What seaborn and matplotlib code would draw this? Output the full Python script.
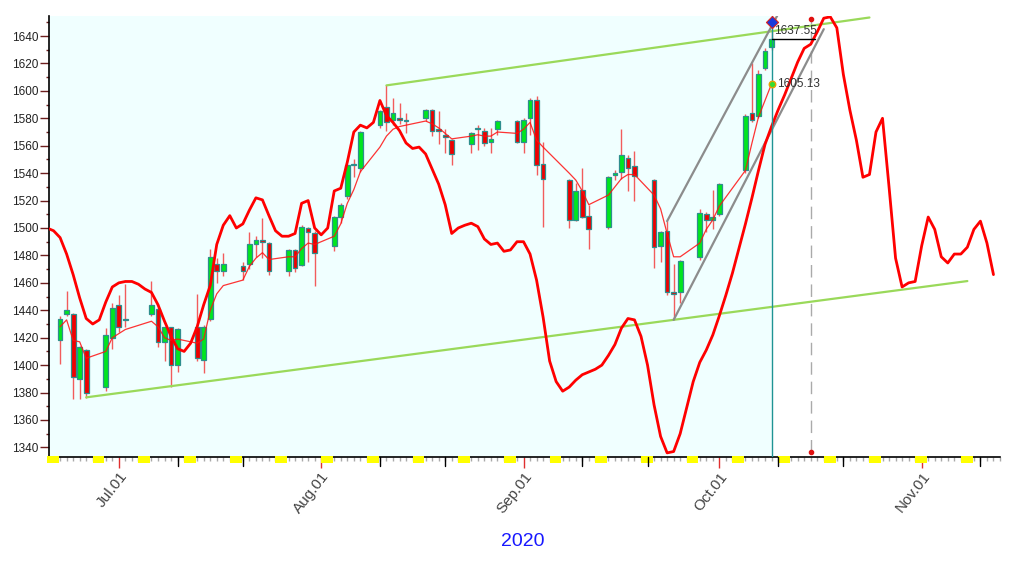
import pandas as pd
import matplotlib
matplotlib.use('Agg')
import matplotlib.pyplot as plt
import matplotlib.dates as mdates
import matplotlib.transforms as mtransforms
from matplotlib.ticker import MultipleLocator
import seaborn as sns

# ---- daily candles ----
trade_dates = ['2020-06-22', '2020-06-23', '2020-06-24', '2020-06-25', '2020-06-26',
               '2020-06-29', '2020-06-30', '2020-07-01', '2020-07-02',
               '2020-07-06', '2020-07-07', '2020-07-08', '2020-07-09', '2020-07-10',
               '2020-07-13', '2020-07-14', '2020-07-15', '2020-07-16', '2020-07-17',
               '2020-07-20', '2020-07-21', '2020-07-22', '2020-07-23', '2020-07-24',
               '2020-07-27', '2020-07-28', '2020-07-29', '2020-07-30', '2020-07-31',
               '2020-08-03', '2020-08-04', '2020-08-05', '2020-08-06', '2020-08-07',
               '2020-08-10', '2020-08-11', '2020-08-12', '2020-08-13', '2020-08-14',
               '2020-08-17', '2020-08-18', '2020-08-19', '2020-08-20', '2020-08-21',
               '2020-08-24', '2020-08-25', '2020-08-26', '2020-08-27', '2020-08-28',
               '2020-08-31', '2020-09-01', '2020-09-02', '2020-09-03', '2020-09-04',
               '2020-09-08', '2020-09-09', '2020-09-10', '2020-09-11',
               '2020-09-14', '2020-09-15', '2020-09-16', '2020-09-17', '2020-09-18',
               '2020-09-21', '2020-09-22', '2020-09-23', '2020-09-24', '2020-09-25',
               '2020-09-28', '2020-09-29', '2020-09-30', '2020-10-01',
               '2020-10-05', '2020-10-06', '2020-10-07', '2020-10-08', '2020-10-09']

opens = [1418, 1437, 1437, 1390, 1411,
         1384, 1420, 1444, 1434,
         1437, 1441, 1417, 1428, 1400,
         1428, 1404, 1434, 1474, 1469,
         1472, 1474, 1488, 1491, 1489,
         1469, 1484, 1473, 1500, 1496,
         1487, 1508, 1523, 1546, 1544,
         1575, 1588, 1579, 1580, 1578,
         1580, 1586, 1572, 1568, 1564,
         1561, 1573, 1571, 1563, 1572,
         1578, 1563, 1580, 1593, 1547,
         1535, 1506, 1528, 1509,
         1501, 1539, 1541, 1551, 1545,
         1535, 1487, 1498, 1453, 1453,
         1479, 1510, 1506, 1510,
         1542, 1584, 1582, 1617, 1632]

highs = [1436, 1454, 1438, 1414, 1412,
         1427, 1445, 1451, 1459,
         1461, 1442, 1428, 1428, 1427,
         1452, 1429, 1485, 1478, 1482,
         1475, 1497, 1494, 1507, 1490,
         1485, 1485, 1502, 1501, 1498,
         1509, 1518, 1547, 1550, 1571,
         1586, 1604, 1595, 1591, 1584,
         1587, 1587, 1585, 1572, 1565,
         1570, 1575, 1573, 1573, 1579,
         1579, 1580, 1595, 1596, 1563,
         1536, 1533, 1544, 1517,
         1538, 1542, 1572, 1553, 1556,
         1536, 1498, 1505, 1474, 1477,
         1514, 1512, 1528, 1533,
         1583, 1620, 1615, 1631, 1645]

lows = [1401, 1436, 1375, 1375, 1376,
        1381, 1412, 1424, 1428,
        1436, 1413, 1403, 1384, 1395,
        1403, 1394, 1432, 1460, 1465,
        1462, 1470, 1479, 1478, 1466,
        1465, 1468, 1472, 1475, 1458,
        1483, 1504, 1521, 1537, 1541,
        1573, 1571, 1575, 1576, 1569,
        1578, 1567, 1561, 1555, 1546,
        1555, 1557, 1560, 1555, 1568,
        1562, 1555, 1568, 1539, 1501,
        1500, 1505, 1507, 1485,
        1499, 1535, 1536, 1527, 1520,
        1471, 1475, 1451, 1433, 1445,
        1477, 1497, 1499, 1509,
        1540, 1577, 1580, 1615, 1630]

closes = [1434, 1440, 1391, 1413, 1380,
          1422, 1442, 1428, 1433,
          1444, 1417, 1428, 1400, 1426,
          1405, 1428, 1479, 1469, 1474,
          1469, 1488, 1491, 1490, 1469,
          1484, 1471, 1501, 1497, 1482,
          1508, 1517, 1546, 1547, 1570,
          1585, 1577, 1584, 1579, 1579,
          1586, 1571, 1571, 1566, 1554,
          1569, 1572, 1562, 1565, 1578,
          1563, 1579, 1593, 1546, 1536,
          1506, 1527, 1508, 1499,
          1537, 1540, 1553, 1544, 1538,
          1486, 1497, 1453, 1452, 1476,
          1511, 1506, 1508, 1532,
          1582, 1579, 1612, 1629, 1637.55]

# thin moving-average line
ma_values = [1428, 1433, 1418, 1417, 1405,
             1410, 1420, 1423, 1426,
             1432, 1428, 1420, 1418, 1419,
             1416, 1419, 1440, 1452, 1458,
             1462, 1472, 1478, 1482, 1477,
             1479, 1479, 1485, 1489, 1488,
             1494, 1503, 1518, 1528, 1541,
             1559, 1567, 1572, 1574, 1575,
             1578, 1576, 1573, 1569, 1565,
             1567, 1568, 1567, 1567, 1570,
             1569, 1572, 1577, 1564, 1559,
             1540, 1535, 1527, 1517,
             1524, 1530, 1536, 1539, 1539,
             1524, 1514, 1496, 1479, 1479,
             1489, 1499, 1506, 1516,
             1542, 1562, 1581, 1593, 1605.13]

# thick cycle line, one value per calendar day from Jun 20
cycle_start = '2020-06-20'
cycle_values = [1500, 1498, 1493, 1481, 1466, 1449, 1434, 1430, 1433, 1446, 1457,
                1460, 1461, 1461, 1459, 1455.5, 1453, 1444, 1432, 1421, 1412,
                1410, 1416, 1428, 1444, 1458, 1488, 1502, 1509, 1500, 1503,
                1513, 1522, 1520.5, 1509, 1498, 1494, 1494, 1496, 1518, 1520,
                1500, 1495, 1500, 1527, 1529, 1548, 1570, 1575, 1573, 1577,
                1593, 1582, 1577, 1571, 1562, 1558, 1559, 1554, 1543, 1532,
                1517, 1496, 1500, 1502, 1503.5, 1501, 1492, 1488, 1489, 1483,
                1484, 1490, 1490, 1481, 1462, 1435, 1403, 1388, 1381, 1384,
                1389, 1393, 1395, 1397, 1400, 1407, 1415, 1427, 1434, 1433,
                1421, 1400, 1371, 1348, 1336, 1337, 1350, 1369, 1388, 1402,
                1411, 1422, 1436, 1451, 1467, 1485, 1503, 1522, 1542, 1561,
                1574, 1586, 1597, 1609, 1621, 1631, 1634, 1643, 1653, 1654,
                1646, 1612, 1586, 1564, 1537, 1539, 1570, 1580, 1530, 1478,
                1457, 1460, 1461, 1487, 1508, 1499, 1479, 1474.5, 1481, 1481,
                1486, 1499, 1505, 1489, 1466]

# trend lines
green_upper_x = ['2020-08-11', '2020-10-24']
green_upper_y = [1604, 1653.5]
green_lower_x = ['2020-06-26', '2020-11-08']
green_lower_y = [1376.5, 1461.3]
gray_upper_x = ['2020-09-23', '2020-10-10']
gray_upper_y = [1505, 1656]
gray_lower_x = ['2020-09-24', '2020-10-17']
gray_lower_y = [1433, 1645]

last_date = '2020-10-09'
last_close = 1637.55
last_ma = 1605.13
marker_date = '2020-10-15'
marker_top = 1652.4
marker_bottom = 1336.6

# ---- style ----
sns.set_style('white')
plt.rcParams['font.family'] = ['Liberation Sans', 'DejaVu Sans']

fig = plt.figure(figsize=(10.3, 5.82), dpi=100)
ax = fig.add_axes([49 / 1030, 1 - 457 / 582, 951 / 1030, 441 / 582])

d_trade = pd.to_datetime(trade_dates)
xt = mdates.date2num(d_trade)
jul1 = mdates.date2num(pd.Timestamp('2020-07-01'))
x_left, x_right = jul1 - 10.7, jul1 + 135.0
x_last = mdates.date2num(pd.Timestamp(last_date))

# shaded history area
ax.axvspan(x_left, x_last, color='#F0FFFF', zorder=0, lw=0)

# candles
body_low = [min(o, c) for o, c in zip(opens, closes)]
body_h = [max(abs(c - o), 0.6) for o, c in zip(opens, closes)]
body_col = ['#00E61E' if c >= o else '#F00000' for o, c in zip(opens, closes)]
ax.vlines(xt, lows, highs, color='#F25C5C', lw=1, zorder=3)
ax.bar(xt, body_h, bottom=body_low, width=0.72, color=body_col,
       edgecolor='#2E8E8E', linewidth=0.9, zorder=4)

# moving average and cycle line
sns.lineplot(x=xt, y=ma_values, color='#FF1010', lw=0.9, alpha=0.85, ax=ax, zorder=5)
d_cycle = pd.date_range(cycle_start, periods=len(cycle_values), freq='D')
sns.lineplot(x=mdates.date2num(d_cycle), y=cycle_values, color='#FF0000', lw=2,
             ax=ax, zorder=6)

# channel lines
for xs, ys, col in [(green_upper_x, green_upper_y, '#9AD95A'),
                    (green_lower_x, green_lower_y, '#9AD95A'),
                    (gray_upper_x, gray_upper_y, '#8C8C8C'),
                    (gray_lower_x, gray_lower_y, '#8C8C8C')]:
    ax.plot(mdates.date2num(pd.to_datetime(xs)), ys, color=col, lw=1.6, zorder=5)

# last bar markers
ax.axvline(x_last, color='#1F9494', lw=1, zorder=7)
x_mark = mdates.date2num(pd.Timestamp(marker_date))
ax.plot([x_last, x_mark + 0.6], [last_close, last_close], color='black', lw=1, zorder=7)
ax.text(x_last + 0.4, last_close + 1.5, f'{last_close:.2f}', fontsize=8.5,
        color='#333333', ha='left', va='bottom', zorder=8)
ax.scatter([x_last], [last_ma], s=22, color='#33DD33', edgecolor='#E8A000',
           linewidth=1, zorder=8)
ax.text(x_last + 0.9, last_ma, f'{last_ma:.2f}', fontsize=8.5, color='#333333',
        ha='left', va='center', zorder=8)
ax.scatter([x_last], [1650], marker='D', s=38, color='#1A3ADD', edgecolor='#DD2222',
           linewidth=0.8, zorder=9, clip_on=False)
ax.plot([x_mark, x_mark], [marker_bottom, marker_top], color='#AAAAAA', lw=1,
        ls=(0, (9, 5)), zorder=2)
ax.scatter([x_mark, x_mark], [marker_bottom, marker_top], s=9, color='#E01010',
           zorder=8, clip_on=False)

# axes limits and ticks
ax.set_xlim(x_left, x_right)
ax.set_ylim(1333, 1654.6)
ax.set_yticks(range(1340, 1641, 20))
ax.yaxis.set_minor_locator(MultipleLocator(10))
ax.tick_params(axis='y', which='major', length=6.5, width=1, color='#6E1E1E',
               labelsize=8.5, labelcolor='#222222', pad=1, left=True)
ax.tick_params(axis='y', which='minor', length=2.5, width=1, color='#6E1E1E', left=True)

ax.xaxis.set_major_locator(mdates.MonthLocator())
ax.xaxis.set_major_formatter(mdates.DateFormatter('%b.%d'))
ax.xaxis.set_minor_locator(mdates.DayLocator())
ax.tick_params(axis='x', which='major', length=8, width=1, color='#E03030',
               labelsize=11, labelcolor='#444444', pad=1, bottom=True)
ax.tick_params(axis='x', which='minor', length=3, width=1, color='#AAAAAA', bottom=True)
for lab in ax.get_xticklabels():
    lab.set_rotation(52)
    lab.set_ha('right')
    lab.set_rotation_mode('anchor')

trans = mtransforms.blended_transform_factory(ax.transData, ax.transAxes)
# 10th / 20th ticks
for day in pd.date_range('2020-07-10', '2020-11-10', freq='D'):
    if day.day in (10, 20):
        xd = mdates.date2num(day)
        ax.plot([xd, xd], [0, -0.02], color='black', lw=1, transform=trans,
                clip_on=False, zorder=9)
# weekend marks under the axis
for sat in pd.date_range('2020-06-20', '2020-11-08', freq='W-SAT'):
    xs = mdates.date2num(sat)
    ax.axvspan(xs, xs + 1.8, ymin=-0.014, ymax=0.002, color='#FFFF00', lw=0,
               clip_on=False, zorder=8)

for side in ['top', 'right']:
    ax.spines[side].set_visible(False)
ax.spines['left'].set_color('black')
ax.spines['left'].set_linewidth(1.2)
ax.spines['bottom'].set_color('black')
ax.spines['bottom'].set_linewidth(1.2)
ax.set_xlabel('')
ax.set_ylabel('')
ax.grid(False)

fig.text(0.508, 0.069, '2020', color='#1818FF', fontsize=14, ha='center', va='center')

fig.savefig('out.png', dpi=100)
